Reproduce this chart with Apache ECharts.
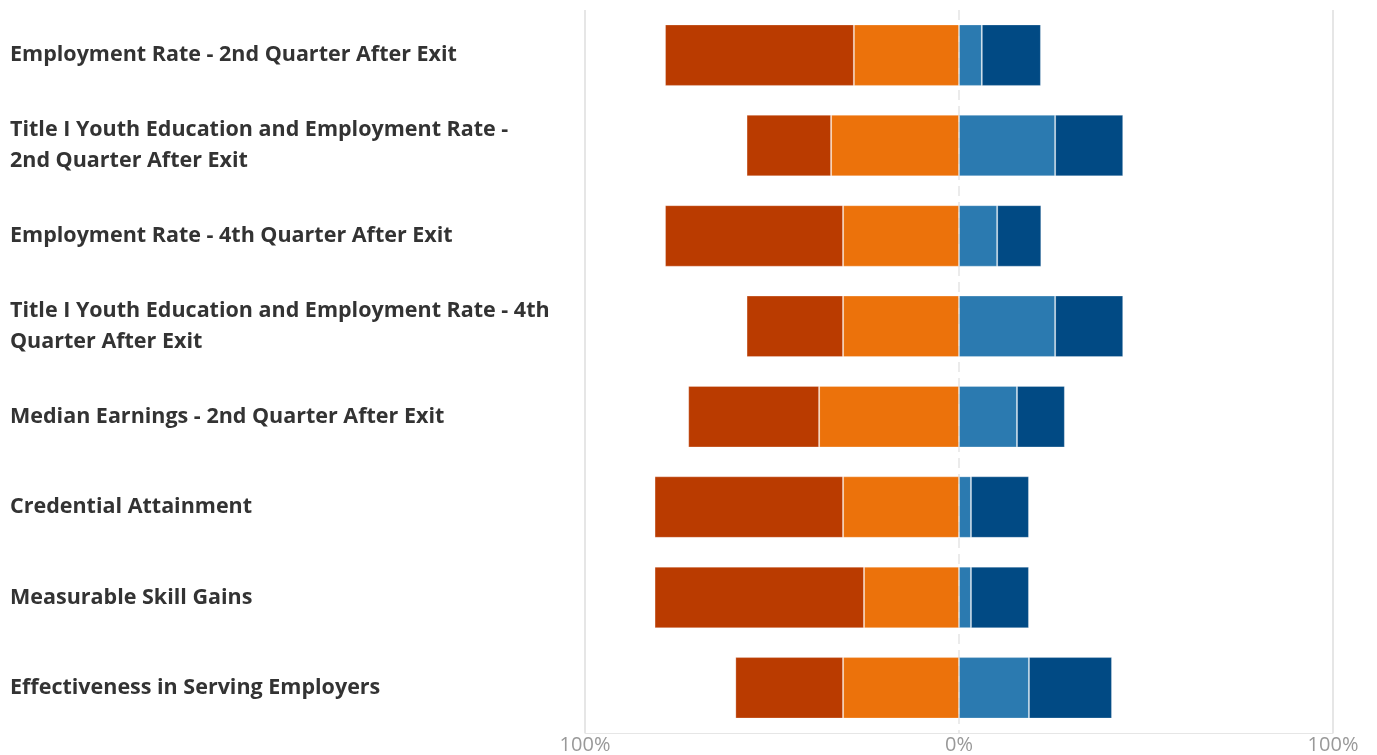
<!DOCTYPE html>
<html>
<head>
<meta charset="utf-8">
<script src="https://cdn.jsdelivr.net/npm/echarts@6/dist/echarts.min.js"></script>
<style>
  html, body { margin: 0; padding: 0; background: #fff; }
  #chart { width: 1377px; height: 755px; }
</style>
</head>
<body>
<div id="chart"></div>
<script>
const categories = [
  'Employment Rate - 2nd Quarter After Exit',
  'Title I Youth Education and Employment Rate -\n2nd Quarter After Exit',
  'Employment Rate - 4th Quarter After Exit',
  'Title I Youth Education and Employment Rate - 4th\nQuarter After Exit',
  'Median Earnings - 2nd Quarter After Exit',
  'Credential Attainment',
  'Measurable Skill Gains',
  'Effectiveness in Serving Employers'
]

// percent of states, left side drawn as negative
const farBelow = [-50.5, -22.6, -47.6, -25.8, -35, -50.4, -56, -28.8]
const below = [-28.1, -34.2, -31, -31, -37.4, -31, -25.4, -31]
const above = [6.1, 25.7, 10.2, 25.7, 15.5, 3.2, 3.2, 18.7]
const farAbove = [15.8, 18.2, 11.8, 18.2, 12.8, 15.5, 15.5, 22.2]

const xTicks = [-100, 0, 100]

const chart = echarts.init(document.getElementById('chart'))

const makeSeries = (name, data, color) => ({
  name: name,
  type: 'bar',
  stack: 'total',
  data: data,
  barWidth: '68%',
  itemStyle: {
    color: color,
    borderColor: 'rgba(255,255,255,0.25)',
    borderWidth: 1
  },
  emphasis: { disabled: true }
})

const option = {
  animation: false,
  grid: { left: 585, right: 44, top: 10, bottom: 21 },
  xAxis: [
    {
      type: 'value',
      min: xTicks[0],
      max: xTicks[xTicks.length - 1],
      interval: 100,
      axisLine: { show: true, lineStyle: { color: '#e6e6e6' } },
      axisTick: { show: false },
      axisLabel: {
        color: '#999999',
        fontSize: 20,
        fontFamily: 'Open Sans',
        margin: 2,
        formatter: v => Math.abs(v) + '%'
      },
      splitLine: {
        show: true,
        lineStyle: { color: ['#e6e6e6', 'rgba(0,0,0,0)', '#e6e6e6'], width: 2 }
      }
    },
    {
      type: 'value',
      min: xTicks[0],
      max: xTicks[xTicks.length - 1],
      interval: 100,
      position: 'bottom',
      axisLine: { show: false },
      axisTick: { show: false },
      axisLabel: { show: false },
      splitLine: {
        show: true,
        lineStyle: { color: ['rgba(0,0,0,0)', '#ebebeb', 'rgba(0,0,0,0)'], type: [10, 6], width: 2 }
      }
    }
  ],
  yAxis: {
    type: 'category',
    data: categories,
    inverse: true,
    axisLine: { show: false },
    axisTick: { show: false },
    axisLabel: {
      align: 'left',
      margin: 575,
      color: '#333333',
      fontWeight: 'bold',
      fontSize: 21.5,
      lineHeight: 31,
      padding: [8, 0, 0, 0],
      fontFamily: 'Open Sans'
    }
  },
  series: [
    makeSeries('Below', below, '#ec720b'),
    makeSeries('Far Below', farBelow, '#ba3b00'),
    makeSeries('Above', above, '#2b7ab0'),
    makeSeries('Far Above', farAbove, '#014a84')
  ]
}

chart.setOption(option)
</script>
</body>
</html>
